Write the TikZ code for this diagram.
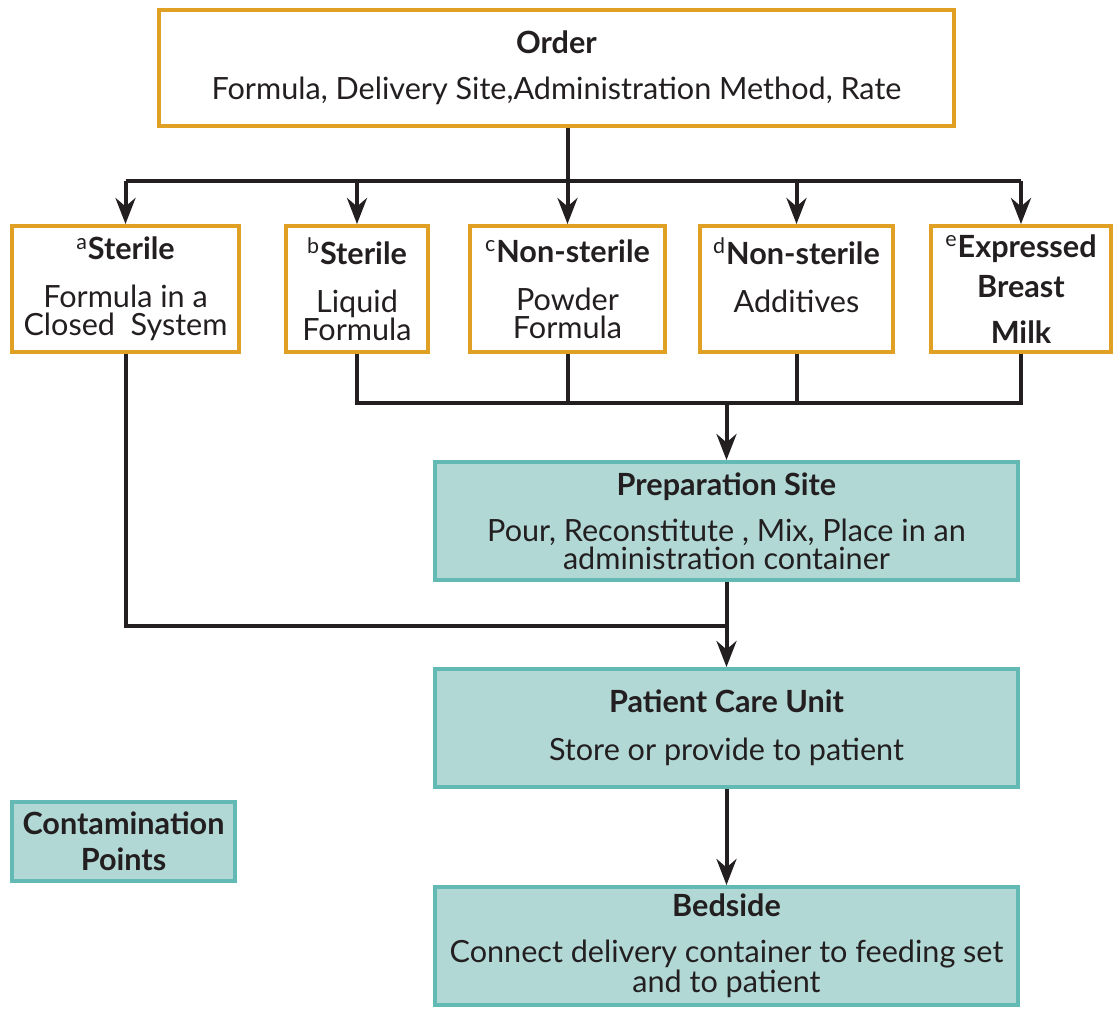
\documentclass[tikz,border=0pt]{standalone}
\usepackage{fontspec}
\setmainfont{Lato}
\usepackage{xcolor}
\usetikzlibrary{arrows.meta,positioning,calc}

\definecolor{gold}{HTML}{DFA024}
\definecolor{tealfill}{HTML}{B1D8D5}
\definecolor{tealline}{HTML}{63BAB4}
\definecolor{ink}{HTML}{231F20}

\begin{document}
\begin{tikzpicture}[
  x=0.5pt, y=-0.5pt,
  every node/.style={font=\fontsize{15.3}{14}\selectfont, align=center, inner sep=0pt, text=ink},
  src/.style={draw=gold, line width=2pt, fill=white, minimum height=63pt},
  site/.style={draw=tealline, line width=2pt, fill=tealfill, minimum width=291.5pt, minimum height=59pt},
  link/.style={draw=ink, line width=2pt},
  arr/.style={link, -{Stealth[length=13pt, width=10pt]}}
]
\useasboundingbox (0,0) rectangle (1115,1008);

% order
\node [src, minimum width=397.5pt, minimum height=58pt] (order) at (556.5,68)
  {\textbf{Order}\\[9pt] Formula, Delivery Site,Administration Method, Rate};

% sources
\node [src, minimum width=113.5pt] (sa) at (125.5,289)
  {\textbf{\textsuperscript{\mdseries a}Sterile}\\[10pt] Formula in a\\ Closed\ \ System};
\node [src, minimum width=71pt] (sb) at (357,289)
  {\textbf{\textsuperscript{\mdseries b}Sterile}\\[10pt] Liquid\\ Formula};
\node [src, minimum width=97.5pt] (sc) at (567.5,289)
  {\textbf{\textsuperscript{\mdseries c}Non-sterile}\\[10pt] Powder\\ Formula};
\node [src, minimum width=96.5pt] (sd) at (796.5,289)
  {\textbf{\textsuperscript{\mdseries d}Non-sterile}\\[10pt] Additives\\ \mbox{}};
\node [src, minimum width=90pt] (se) at (1021,289)
  {\textbf{\textsuperscript{\mdseries e}Expressed}\\[6pt] \textbf{Breast}\\[9pt] \textbf{Milk}};

% sites
\node [site] (prep) at (726.5,521)
  {\textbf{Preparation Site}\\[9pt] Pour, Reconstitute , Mix, Place in an\\ administration container};
\node [site] (care) at (726.5,728)
  {\textbf{Patient Care Unit}\\[10pt] Store or provide to patient};
\node [site] (bed) at (726.5,946)
  {\textbf{Bedside}\\[9pt] Connect delivery container to feeding set\\ and to patient};

% legend
\node [site, minimum width=111.5pt, minimum height=39.5pt] (key) at (123.5,841.5)
  {\textbf{Contamination}\\[4pt] \textbf{Points}};

\coordinate (top) at (0,181);
\coordinate (mid) at (0,403);
\coordinate (low) at (0,626);

% connectors
\draw [link] (sa.north |- top) -- (se.north |- top);
\draw [arr] (sc.north |- order.south) -- (sc.north);
\foreach \n in {sa,sb,sd,se}
  \draw [arr] (\n.north |- top) -- (\n.north);

\draw [link] (sb.south) -- (sb.south |- mid) -- (se.south |- mid) -- (se.south);
\draw [link] (sc.south) -- (sc.south |- mid);
\draw [link] (sd.south) -- (sd.south |- mid);
\draw [arr] (prep.north |- mid) -- (prep.north);

\draw [link] (sa.south) |- (care.north |- low);
\draw [arr] (prep.south) -- (care.north);
\draw [arr] (care.south) -- (bed.north);
\end{tikzpicture}
\end{document}
